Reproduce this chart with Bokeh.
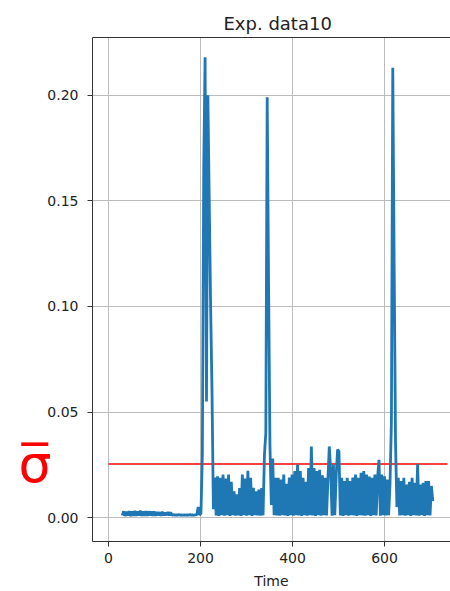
import numpy as np
from bokeh.plotting import figure
from bokeh.models import Range1d, FixedTicker, PrintfTickFormatter, LinearAxis
from bokeh.embed import file_html
from bokeh.resources import INLINE

# ---- data -------------------------------------------------------------
time = np.arange(30, 706, 3)  # sampling grid, 226 samples
signal = [
    0.0010, 0.0030, 0.0008, 0.0028, 0.0010, 0.0031, 0.0007, 0.0030, 0.0009, 0.0032,
    0.0008, 0.0029, 0.0010, 0.0033, 0.0008, 0.0030, 0.0009, 0.0031, 0.0008, 0.0030,
    0.0010, 0.0029, 0.0008, 0.0030, 0.0009, 0.0027, 0.0010, 0.0026, 0.0009, 0.0028,
    0.0010, 0.0024, 0.0011, 0.0027, 0.0010, 0.0025, 0.0011, 0.0014, 0.0012, 0.0013,
    0.0012, 0.0014, 0.0012, 0.0013, 0.0012, 0.0013, 0.0012, 0.0013, 0.0012, 0.0014,
    0.0012, 0.0013, 0.0012, 0.0013, 0.0014, 0.0050, 0.0012, 0.0020, 0.0300, 0.1650,
    0.2180, 0.0550, 0.2000, 0.1500, 0.1000, 0.0600, 0.0040, 0.0190, 0.0010, 0.0196,
    0.0008, 0.0188, 0.0012, 0.0204, 0.0009, 0.0185, 0.0011, 0.0204, 0.0008, 0.0170,
    0.0012, 0.0125, 0.0009, 0.0110, 0.0011, 0.0140, 0.0008, 0.0204, 0.0012, 0.0185,
    0.0009, 0.0222, 0.0011, 0.0188, 0.0008, 0.0141, 0.0012, 0.0125, 0.0010, 0.0133,
    0.0009, 0.0140, 0.0011, 0.0298, 0.0400, 0.1990, 0.1100, 0.0340, 0.0060, 0.0280,
    0.0012, 0.0188, 0.0010, 0.0188, 0.0009, 0.0180, 0.0012, 0.0204, 0.0010, 0.0160,
    0.0008, 0.0190, 0.0011, 0.0204, 0.0009, 0.0220, 0.0012, 0.0251, 0.0010, 0.0220,
    0.0008, 0.0188, 0.0011, 0.0170, 0.0009, 0.0235, 0.0012, 0.0337, 0.0010, 0.0235,
    0.0008, 0.0220, 0.0011, 0.0227, 0.0009, 0.0200, 0.0012, 0.0188, 0.0010, 0.0180,
    0.0337, 0.0220, 0.0009, 0.0251, 0.0011, 0.0200, 0.0322, 0.0314, 0.0010, 0.0188,
    0.0008, 0.0173, 0.0012, 0.0188, 0.0009, 0.0173, 0.0011, 0.0190, 0.0010, 0.0204,
    0.0008, 0.0188, 0.0012, 0.0212, 0.0010, 0.0220, 0.0009, 0.0204, 0.0011, 0.0195,
    0.0008, 0.0188, 0.0012, 0.0204, 0.0010, 0.0190, 0.0274, 0.0009, 0.0204, 0.0011,
    0.0196, 0.0010, 0.0180, 0.0012, 0.0160, 0.0450, 0.2130, 0.1200, 0.0350, 0.0050,
    0.0188, 0.0010, 0.0173, 0.0012, 0.0188, 0.0009, 0.0157, 0.0011, 0.0170, 0.0008,
    0.0188, 0.0012, 0.0165, 0.0010, 0.0254, 0.0009, 0.0157, 0.0011, 0.0165, 0.0008,
    0.0173, 0.0012, 0.0173, 0.0010, 0.0150, 0.0078,
]
sigma_bar = 0.0254          # mean threshold (red line)
threshold_x = [0, 737]      # extent of the threshold line in time units
x_ticks = [0, 200, 400, 600]
y_ticks = [0.0, 0.05, 0.10, 0.15, 0.20]
title_text = "Exp. data10"
x_label = "Time"
sigma_text = "\u03c3\u0305"   # sigma with overline

# ---- figure -----------------------------------------------------------
p = figure(width=450, height=591, output_backend="svg", toolbar_location=None,
           x_range=Range1d(-34.8, 743.5), y_range=Range1d(-0.0113, 0.2273),
           min_border_left=92, min_border_top=37, min_border_bottom=47,
           min_border_right=0)
p.outline_line_color = None
p.background_fill_color = "white"
p.border_fill_color = "white"

GRID = "#bcbcbc"
AX = "#333333"
TXT = "#222222"
FONT = "DejaVu Sans"

p.xgrid.grid_line_color = GRID
p.ygrid.grid_line_color = GRID
p.xgrid.grid_line_width = 1
p.ygrid.grid_line_width = 1

for ax in (p.xaxis[0], p.yaxis[0]):
    ax.axis_line_color = AX
    ax.major_tick_line_color = AX
    ax.major_tick_out = 5
    ax.major_tick_in = 0
    ax.minor_tick_line_color = None
    ax.major_label_text_font = FONT
    ax.major_label_text_font_size = "14px"
    ax.major_label_text_color = TXT

p.xaxis.ticker = FixedTicker(ticks=x_ticks)
p.yaxis.ticker = FixedTicker(ticks=y_ticks)
p.yaxis.formatter = PrintfTickFormatter(format="%.2f")
p.xaxis.major_label_standoff = 6
p.yaxis.major_label_standoff = 9

p.xaxis.axis_label = x_label
p.xaxis.axis_label_text_font = FONT
p.xaxis.axis_label_text_font_size = "14px"
p.xaxis.axis_label_text_font_style = "normal"
p.xaxis.axis_label_text_color = TXT
p.xaxis.axis_label_standoff = 7

# top frame border
top = LinearAxis(ticker=FixedTicker(ticks=[]), axis_line_color=AX,
                 major_tick_line_color=None, minor_tick_line_color=None,
                 major_label_standoff=0, major_tick_out=0, major_tick_in=0)
p.add_layout(top, "above")

# red sigma-bar marker on the left, aligned with the threshold level
sig_axis = LinearAxis(ticker=FixedTicker(ticks=[sigma_bar]),
                      major_label_overrides={sigma_bar: sigma_text},
                      axis_line_color=None, major_tick_line_color=None,
                      minor_tick_line_color=None, major_label_standoff=-13,
                      major_label_text_font=FONT,
                      major_label_text_font_size="52px",
                      major_label_text_color="#ff0000")
p.add_layout(sig_axis, "left")

# title
p.title.text = title_text
p.title.align = "left"
p.title.offset = 131
p.title.text_font = FONT
p.title.text_font_size = "18px"
p.title.text_font_style = "normal"
p.title.text_color = TXT
p.title.standoff = 8

# threshold line (under the signal)
p.line(threshold_x, [sigma_bar, sigma_bar], line_color="#ff0000", line_width=1.5)
# signal
p.line(time, signal, line_color="#1f77b4", line_width=2.8)

open("out.html", "w").write(file_html(p, INLINE))
